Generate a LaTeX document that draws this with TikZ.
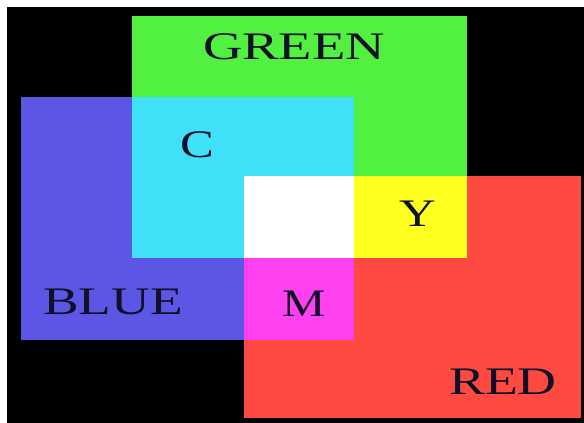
\documentclass[tikz,border=0pt]{standalone}
\usepackage{fontspec}
\setmainfont{Liberation Serif}
\definecolor{cgreen}{RGB}{82,240,64}
\definecolor{cblue}{RGB}{92,86,228}
\definecolor{ccyan}{RGB}{64,224,248}
\definecolor{cyellow}{RGB}{255,255,32}
\definecolor{cmagenta}{RGB}{255,64,240}
\definecolor{cred}{RGB}{255,74,66}
\definecolor{ctext}{RGB}{16,16,40}
\tikzset{lbl/.style={text=ctext,inner sep=0pt,font=\fontsize{39}{39}\selectfont}}
\begin{document}
\begin{tikzpicture}[x=1pt,y=-1pt]
\useasboundingbox (0,0) rectangle (584,423);
\fill[white] (0,0) rectangle (584,423);
\fill[black] (7,7) rectangle (584,423);
% primaries
\fill[cgreen] (132,16) rectangle (467,258);
\fill[cblue] (21,97) rectangle (354,340);
\fill[cred] (244,176) rectangle (581,418);
% overlaps
\fill[ccyan] (132,97) rectangle (354,258);
\fill[cyellow] (244,176) rectangle (467,258);
\fill[cmagenta] (244,176) rectangle (354,340);
\fill[white] (244,176) rectangle (354,258);
% labels
\node[lbl] (green) at (294,46.5) {\scalebox{1.4}[1]{GREEN}};
\node[lbl] (c) at (197,144.5) {\scalebox{1.3}[1]{C}};
\node[lbl] (y) at (418,213.5) {\scalebox{1.3}[1]{Y}};
\node[lbl] (m) at (304,303.5) {\scalebox{1.25}[1]{M}};
\node[lbl] (blue) at (113,302) {\scalebox{1.37}[1]{BLUE}};
\node[lbl] (red) at (503,381.5) {\scalebox{1.38}[1]{RED}};
\end{tikzpicture}
\end{document}
